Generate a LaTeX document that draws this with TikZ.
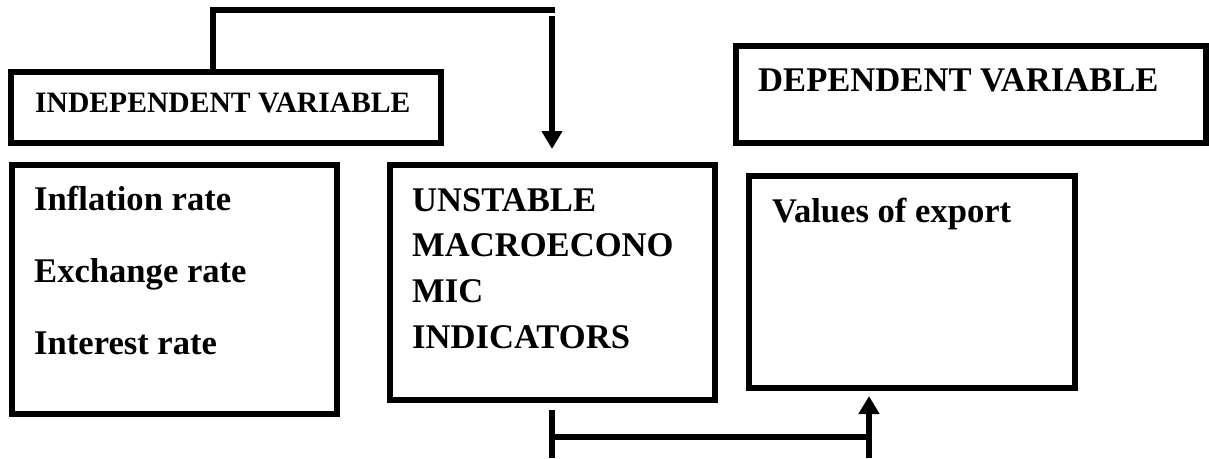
\documentclass[tikz,border=0pt]{standalone}
\usepackage{fontspec}
\setmainfont{Liberation Serif}
\usetikzlibrary{arrows.meta}

\tikzset{
  frame/.style={draw=black, line width=6pt, inner sep=0pt, minimum width=#1},
  label/.style={anchor=base west, inner sep=0pt, font=\bfseries\fontsize{34.6}{40}\selectfont},
  smalllabel/.style={anchor=base west, inner sep=0pt, font=\bfseries\fontsize{29.6}{34}\selectfont},
  conn/.style={draw=black, line width=6pt, line join=miter},
  arr/.style={conn, -{Triangle[width=20pt,length=18pt]}},
}

\begin{document}
\begin{tikzpicture}[x=1pt, y=-1pt]
\useasboundingbox (0,0) rectangle (1209,458);

% boxes
\node[frame=430pt, minimum height=71pt]  (indep) at (226,107.5) {};
\node[frame=470pt, minimum height=97pt]  (dep)   at (971,94.5) {};
\node[frame=325pt, minimum height=249pt] (rates) at (174.5,289.5) {};
\node[frame=325pt, minimum height=235pt] (unst)  at (552.5,282.5) {};
\node[frame=326pt, minimum height=212pt] (vals)  at (912,282) {};

% texts
\node[smalllabel] (tindep) at (35,112) {INDEPENDENT VARIABLE};
\node[label] (tdep) at (758,91) {DEPENDENT VARIABLE};
\node[label] (tinf) at (34,210) {Inflation rate};
\node[label] (texc) at (34,282) {Exchange rate};
\node[label] (tint) at (34,354) {Interest rate};
\node[label] (tu1) at (412,211) {UNSTABLE};
\node[label] (tu2) at (412,256) {MACROECONO};
\node[label] (tu3) at (412,302) {MIC};
\node[label] (tu4) at (412,348) {INDICATORS};
\node[label] (tval) at (772,222) {Values of export};

% upper connector: independent variable -> unstable indicators
\coordinate (topL) at (213,10);
\coordinate (topR) at (555,10);
\coordinate (dropTop) at (552,16);
\draw[conn] (indep.north -| topL) -- (topL) -- (topR);
\draw[arr, shorten >=13pt] (dropTop) -- (unst.north -| dropTop);

% lower connector: unstable indicators -> values of export
\coordinate (bL) at (552,458);
\coordinate (hL) at (552,437);
\coordinate (hR) at (869,437);
\coordinate (bR) at (869,458);
\draw[conn] ([yshift=-7pt]unst.south -| bL) -- (bL);
\draw[conn] (hL) -- (hR);
\draw[arr, shorten >=5pt] (bR) -- (vals.south -| bR);
\end{tikzpicture}
\end{document}
